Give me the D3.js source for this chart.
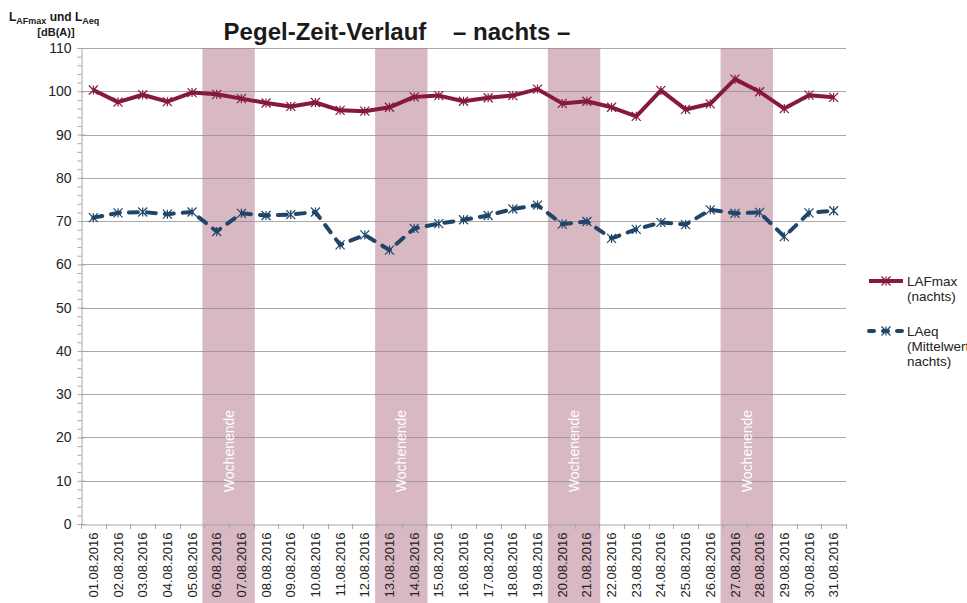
<!DOCTYPE html>
<html>
<head>
<meta charset="utf-8">
<script src="https://cdn.jsdelivr.net/npm/d3@7.9.0/dist/d3.min.js"></script>
<style>
  body { margin: 0; background: #fff; }
  svg { font-family: "Liberation Sans", Arial, sans-serif; }
</style>
</head>
<body>
<svg id="chart" width="967" height="603"></svg>
<script>
const days = d3.range(1, 32).map(d => String(d).padStart(2, '0') + '.08.2016');
const lafmax = [100.3, 97.5, 99.2, 97.6, 99.7, 99.3, 98.3, 97.3, 96.5, 97.4, 95.6, 95.4,
  96.3, 98.7, 99.0, 97.7, 98.5, 99.0, 100.5, 97.2, 97.7, 96.3, 94.2, 100.2, 95.8, 97.1,
  102.8, 99.9, 96.0, 99.1, 98.6];
const laeq = [70.8, 71.9, 72.1, 71.6, 72.1, 67.6, 71.8, 71.3, 71.5, 72.1, 64.5, 66.8,
  63.3, 68.3, 69.4, 70.3, 71.3, 72.8, 73.7, 69.3, 69.9, 66.0, 68.1, 69.7, 69.2, 72.6,
  71.8, 72.0, 66.4, 71.9, 72.4];
const weekends = [['06.08.2016', '07.08.2016'], ['13.08.2016', '14.08.2016'],
  ['20.08.2016', '21.08.2016'], ['27.08.2016', '28.08.2016']];
const yTicks = d3.range(0, 111, 10);

const svg = d3.select('#chart');
const margin = { left: 81, right: 121, top: 48, bottom: 79 };
const W = 967, H = 603;

const x = d3.scaleBand().domain(days).range([margin.left, W - margin.right]);
const y = d3.scaleLinear().domain([0, 110]).range([H - margin.bottom, margin.top]);

// weekend shading
svg.append('g').selectAll('rect').data(weekends).join('rect')
  .attr('x', d => x(d[0]) - 2)
  .attr('width', d => x(d[1]) + x.bandwidth() - x(d[0]) + 3)
  .attr('y', y(110))
  .attr('height', H - y(110))
  .attr('fill', '#d8b8c3');

// gridlines
svg.append('g').selectAll('line').data(yTicks.filter(d => d > 0)).join('line')
  .attr('x1', margin.left).attr('x2', W - margin.right)
  .attr('y1', d => Math.round(y(d)) + 0.5).attr('y2', d => Math.round(y(d)) + 0.5)
  .attr('stroke', '#8c8c8c').attr('stroke-opacity', 0.75).attr('stroke-width', 1);

// y axis
const yAxis = svg.append('g')
  .attr('transform', `translate(${margin.left + 0.5},0)`)
  .call(d3.axisLeft(y).tickValues(yTicks).tickSize(4).tickPadding(6));
yAxis.select('.domain').attr('stroke', '#a6a6a6');
yAxis.selectAll('.tick line').attr('stroke', '#a6a6a6').attr('x2', 4).attr('x1', -4);
yAxis.selectAll('text').attr('font-size', 14).attr('fill', '#222');
svg.append('g')
  .attr('transform', `translate(${margin.left + 0.5},0)`)
  .call(d3.axisLeft(y).tickValues(d3.range(0, 111, 2).filter(d => d % 10)).tickSize(4).tickFormat(''))
  .call(g => g.select('.domain').remove())
  .selectAll('.tick line').attr('stroke', '#a6a6a6');

// x axis
const xAxis = svg.append('g')
  .attr('transform', `translate(0,${Math.round(y(0)) + 0.5})`)
  .call(d3.axisBottom(x).tickSize(0).tickPadding(8));
xAxis.select('.domain').attr('stroke', '#a6a6a6');
xAxis.selectAll('text')
  .attr('transform', 'rotate(-90)')
  .attr('text-anchor', 'end')
  .attr('dy', '0.35em')
  .attr('x', -8).attr('y', 0)
  .attr('font-size', 13).attr('fill', '#222');
svg.append('g').selectAll('line').data(days.concat(['end'])).join('line')
  .attr('x1', (d, i) => Math.round(margin.left + i * x.step()) + 0.5)
  .attr('x2', (d, i) => Math.round(margin.left + i * x.step()) + 0.5)
  .attr('y1', Math.round(y(0))).attr('y2', Math.round(y(0)) + 5)
  .attr('stroke', '#a6a6a6');

// Wochenende labels
svg.append('g').selectAll('text').data(weekends).join('text')
  .attr('transform', d => `translate(${x(d[1]) + 4.5},451) rotate(-90)`)
  .attr('text-anchor', 'middle')
  .attr('font-size', 14)
  .attr('fill', '#fff')
  .text('Wochenende');

const cx = d => x(d) + x.bandwidth() / 2;

function starMarker(g, color, s) {
  g.append('path')
    .attr('d', `M${-s},${-s}L${s},${s}M${-s},${s}L${s},${-s}M0,${-s}L0,${s}`)
    .attr('stroke', color).attr('stroke-width', 1.2).attr('fill', 'none');
}

function drawSeries(values, color, dash) {
  const line = d3.line().x((d, i) => cx(days[i])).y(d => y(d));
  svg.append('path').datum(values)
    .attr('d', line)
    .attr('fill', 'none')
    .attr('stroke', color)
    .attr('stroke-width', 4)
    .attr('stroke-linejoin', 'round')
    .attr('stroke-linecap', dash ? 'round' : 'butt')
    .attr('stroke-dasharray', dash || null);
  const m = svg.append('g').selectAll('g').data(values).join('g')
    .attr('transform', (d, i) => `translate(${cx(days[i])},${y(d)})`);
  m.each(function () { starMarker(d3.select(this), color, 4.5); });
}

const red = '#851a3d';
const blue = '#1f4668';
drawSeries(lafmax, red, null);
drawSeries(laeq, blue, '9,9');

// title
svg.append('text')
  .attr('x', 397).attr('y', 40)
  .attr('text-anchor', 'middle')
  .attr('font-size', 24).attr('font-weight', 'bold').attr('fill', '#1a1a1a')
  .attr('xml:space', 'preserve')
  .text('Pegel-Zeit-Verlauf    \u2013 nachts \u2013');

// y label
const yl = svg.append('text').attr('x', 9).attr('y', 21)
  .attr('font-size', 12).attr('font-weight', 'bold').attr('fill', '#1a1a1a');
yl.append('tspan').text('L');
yl.append('tspan').attr('font-size', 9).attr('dy', 3).text('AFmax');
yl.append('tspan').attr('dy', -3).text(' und L');
yl.append('tspan').attr('font-size', 9).attr('dy', 3).text('Aeq');
svg.append('text').attr('x', 56).attr('y', 36).attr('text-anchor', 'middle')
  .attr('font-size', 11).attr('font-weight', 'bold').attr('fill', '#1a1a1a')
  .text('[dB(A)]');

// legend
const legend = [
  { label: ['LAFmax', '(nachts)'], color: red, dash: null, y: 281 },
  { label: ['LAeq', '(Mittelwert,', 'nachts)'], color: blue, dash: '9,9', y: 331 }
];
legend.forEach(l => {
  const g = svg.append('g');
  g.append('line').attr('x1', 869).attr('x2', 903).attr('y1', l.y).attr('y2', l.y)
    .attr('stroke', l.color).attr('stroke-width', 4)
    .attr('stroke-linecap', l.dash ? 'round' : 'butt')
    .attr('stroke-dasharray', l.dash ? '5,9' : null);
  const mg = g.append('g').attr('transform', `translate(886,${l.y})`);
  starMarker(mg, l.color, 4.5);
  l.label.forEach((t, i) => {
    g.append('text').attr('x', 907).attr('y', l.y + 5 + i * 15)
      .attr('font-size', 13.5).attr('fill', '#222').text(t);
  });
});
</script>
</body>
</html>
